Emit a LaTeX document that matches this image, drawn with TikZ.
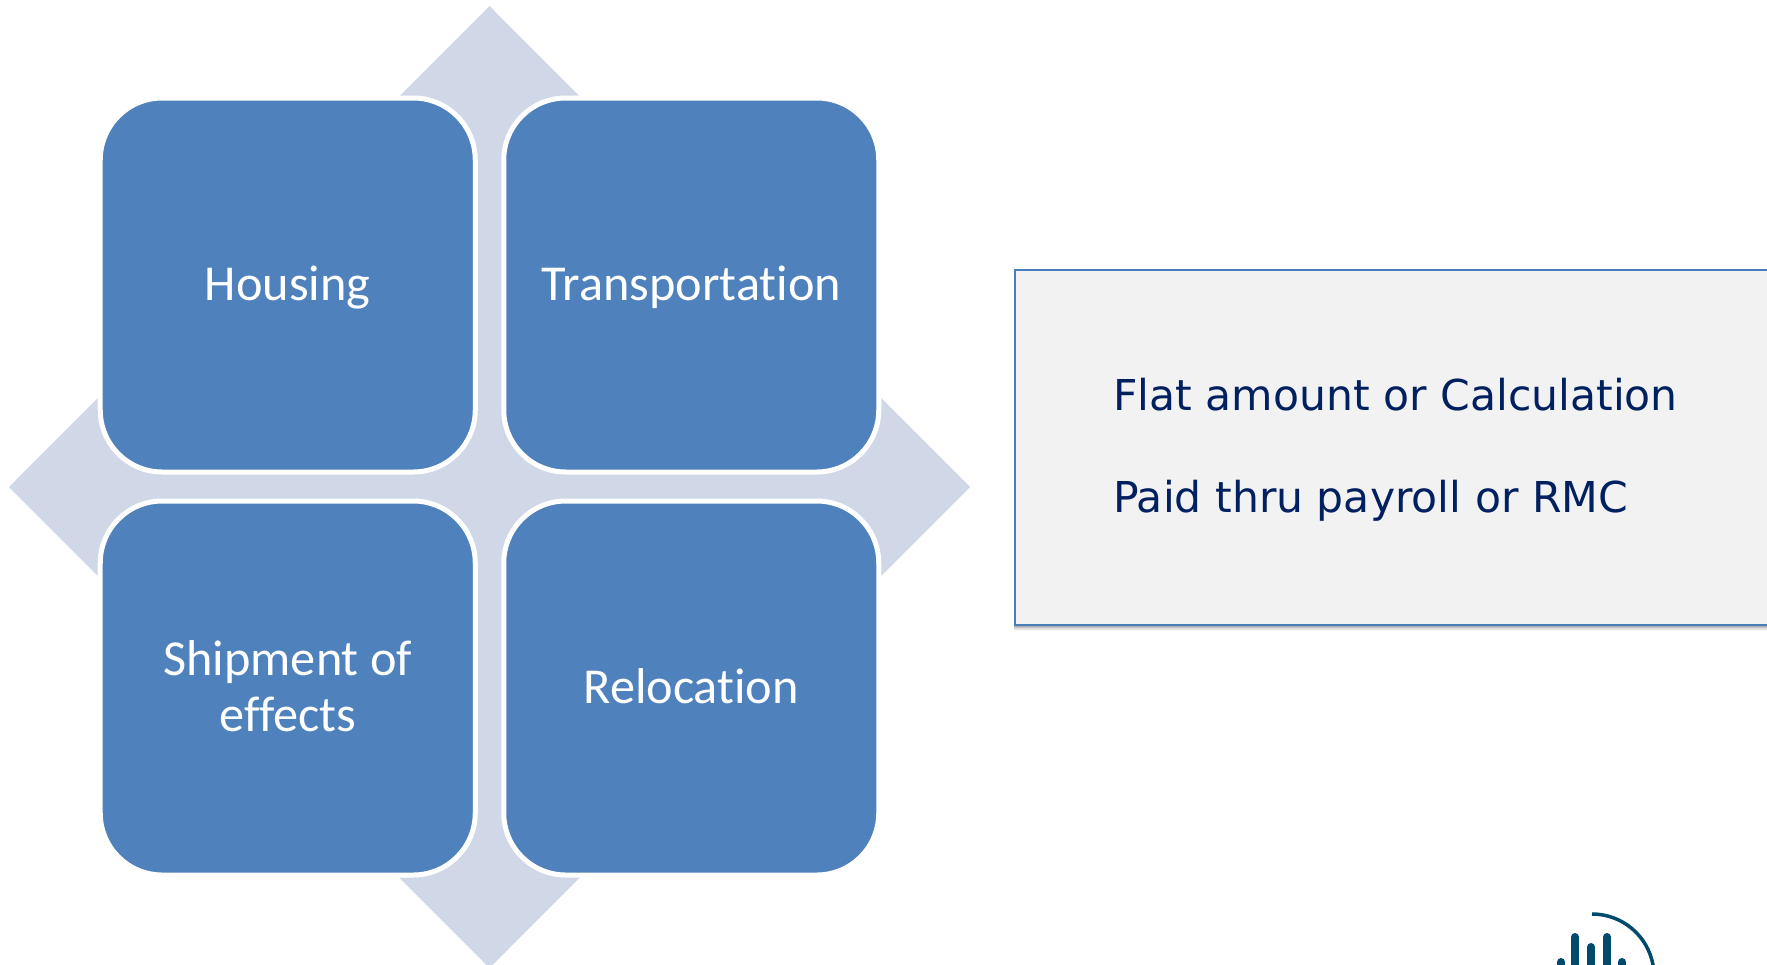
\documentclass[tikz,border=0pt]{standalone}
\usepackage{fontspec}
\setmainfont[Ligatures={NoCommon}]{Carlito}
\newfontfamily\panelfont{DejaVu Sans}
\definecolor{tile}{HTML}{4F81BD}
\definecolor{diam}{HTML}{D0D8E8}
\definecolor{panelfill}{HTML}{F2F2F2}
\definecolor{panelline}{HTML}{4A7EBB}
\definecolor{paneltext}{HTML}{002060}
\definecolor{logoc}{HTML}{004B6B}
\newcommand{\tileline}[1]{\raisebox{-15.5bp}[0pt][0pt]{#1}}
\tikzset{
  tilebox/.style={draw=white,line width=5bp,fill=tile,rounded corners=62bp,minimum width=375bp,minimum height=374bp,
    inner sep=0pt,outer sep=0pt,text=white,align=center,font=\fontsize{50.5}{55.5}\selectfont,anchor=center},
  panelbox/.style={draw=panelline,line width=2bp,fill=panelfill,minimum width=760bp,minimum height=355bp,anchor=north west,inner sep=0pt},
  paneltxt/.style={text=paneltext,font=\panelfont\fontsize{42.7}{50}\selectfont,anchor=base west,inner sep=0pt},
  logobar/.style={draw=logoc,line width=8bp,line cap=round},
}
\begin{document}
\begin{tikzpicture}[x=1bp,y=-1bp]
\useasboundingbox (0,0) rectangle (1767,964);
\begin{scope}
\clip (0,0) rectangle (1767,964);
\fill[diam] (489.5,6) -- (970,487) -- (489.5,968) -- (9,487) -- cycle;
\node[tilebox] (housing) at (287.75,285) {\tileline{Housing}};
\node[tilebox] (transport) at (691.25,285) {\tileline{Transportation}};
\node[tilebox] (shipment) at (287.75,688) {\tileline{Shipment of}\\\tileline{effects}};
\node[tilebox] (relocation) at (691.25,688) {\tileline{Relocation}};
\foreach \o/\a in {7/0.04,6/0.05,5/0.07,4/0.09,3/0.11,2/0.14,1/0.17}
  \fill[black,opacity=\a] (1014,269+\o) rectangle (1780,624+\o);
\node[panelbox] (panel) at (1014,268.5) {};
\node[paneltxt] (flat) at (1113,410.5) {Flat amount or Calculation};
\node[paneltxt] (paid) at (1113,512.5) {Paid thru payroll or RMC};
\draw[logoc,line width=3.5bp] (1592,914) arc[start angle=-90,end angle=-10,radius=62];
\draw[logobar] (1575,937) -- (1575,975);
\draw[logobar] (1591,947) -- (1591,975);
\draw[logobar] (1607,937) -- (1607,975);
\draw[logobar] (1561,962) -- (1561,975);
\draw[logobar] (1622,962) -- (1622,975);
\end{scope}
\end{tikzpicture}
\end{document}
